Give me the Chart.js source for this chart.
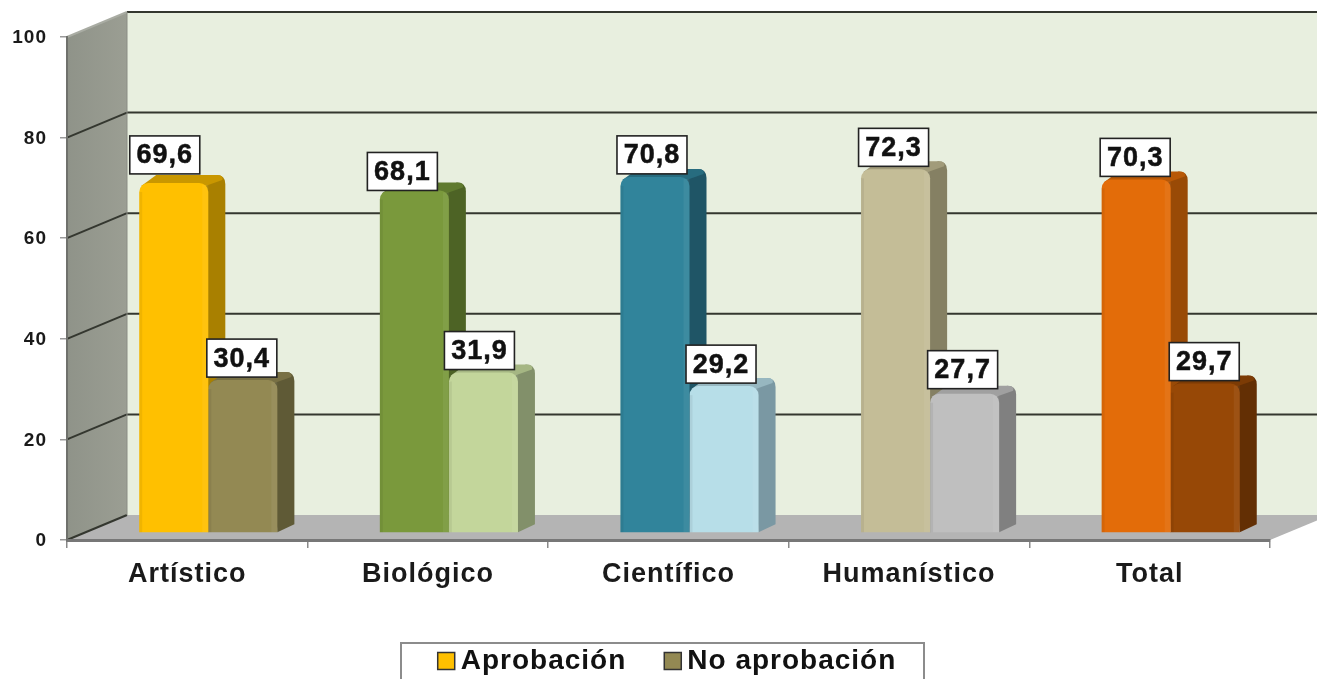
<!DOCTYPE html>
<html>
<head>
<meta charset="utf-8">
<title>Aprobación</title>
<script src="https://cdn.jsdelivr.net/npm/chart.js@4"></script>
<style>
  html, body { margin: 0; padding: 0; background: #fff; overflow: hidden; }
  canvas { display: block; filter: blur(0.7px); }
</style>
</head>
<body>
<canvas id="chart" width="1317" height="679"></canvas>
<script>
const categories = ['Artístico', 'Biológico', 'Científico', 'Humanístico', 'Total'];
const aprobacion = [69.6, 68.1, 70.8, 72.3, 70.3];
const noAprobacion = [30.4, 31.9, 29.2, 27.7, 29.7];
const yTicks = [0, 20, 40, 60, 80, 100];

const frontColors = [
    ['#ffc000', '#7a993c', '#31849b', '#c4bd97', '#e36c09'],
    ['#938953', '#c3d69b', '#b7dee8', '#bfbfbf', '#974806']
];
const sideColors = [
    ['#a98000', '#4d6325', '#1f5566', '#858063', '#994a06'],
    ['#5f5a36', '#82906a', '#7a98a3', '#808080', '#632f04']
];
const topColors = [
    ['#c99700', '#5f7a2e', '#276c7f', '#a19b7a', '#b85807'],
    ['#787044', '#a5b683', '#97b7c0', '#a0a0a0', '#7c3b05']
];

// hand placed labels in the original, small nudges from the default spot
const labelNudgeX = [[-9, -12, -3, -2, -1], [-1, -4, -3, -2, -1]];
const labelNudgeY = [[-5, 4, 1, 1, 1], [1, 1, 1, -1, 1]];

const font = 'Liberation Sans, Arial, sans-serif';
const wallDx = 60, wallDy = 25;
const barShiftX = 21, barShiftY = 7;
const barDx = 17, barDy = 8, corner = 9;

function drawWalls(chart) {
    const ctx = chart.ctx;
    const area = chart.chartArea;
    const y = chart.scales.y;
    const left = area.left, right = area.right, bottom = area.bottom, top = area.top;
    const far = right + wallDx;

    ctx.save();
    // back wall
    ctx.fillStyle = '#e8efdf';
    ctx.fillRect(left + wallDx, top - wallDy, far - left - wallDx, bottom - top);

    // left wall
    const grad = ctx.createLinearGradient(left, 0, left + wallDx, 0);
    grad.addColorStop(0, '#8f9389');
    grad.addColorStop(1, '#9b9e93');
    ctx.fillStyle = grad;
    ctx.beginPath();
    ctx.moveTo(left, top);
    ctx.lineTo(left + wallDx, top - wallDy);
    ctx.lineTo(left + wallDx, bottom - wallDy);
    ctx.lineTo(left, bottom);
    ctx.closePath();
    ctx.fill();

    // floor
    ctx.fillStyle = '#b4b4b4';
    ctx.beginPath();
    ctx.moveTo(left, bottom);
    ctx.lineTo(left + wallDx, bottom - wallDy);
    ctx.lineTo(far, bottom - wallDy);
    ctx.lineTo(right, bottom);
    ctx.closePath();
    ctx.fill();

    // grid lines, along the left wall then the back wall
    ctx.lineWidth = 2;
    yTicks.forEach(v => {
        const py = y.getPixelForValue(v);
        // the top edge of the left wall is only a faint line
        ctx.strokeStyle = v === 100 ? '#a9aca3' : '#34372f';
        ctx.beginPath();
        ctx.moveTo(left, py);
        ctx.lineTo(left + wallDx, py - wallDy);
        ctx.stroke();
        if (v > 0) {
            ctx.strokeStyle = '#34372f';
            ctx.beginPath();
            ctx.moveTo(left + wallDx, py - wallDy);
            ctx.lineTo(far, py - wallDy);
            ctx.stroke();
        }
    });

    ctx.strokeStyle = '#8a8d84';
    ctx.lineWidth = 1;
    ctx.beginPath();
    ctx.moveTo(left + wallDx, top - wallDy);
    ctx.lineTo(left + wallDx, bottom - wallDy);
    ctx.stroke();
    ctx.restore();
}

function drawBarDepth(ctx, bar, side, topColor) {
    const x0 = bar.x - bar.width / 2, x1 = bar.x + bar.width / 2;
    const top = bar.y, base = bar.base;

    ctx.fillStyle = side;
    ctx.beginPath();
    ctx.moveTo(x1 - corner, top);
    ctx.lineTo(x1 + barDx - corner, top - barDy);
    ctx.quadraticCurveTo(x1 + barDx, top - barDy, x1 + barDx, top - barDy + corner);
    ctx.lineTo(x1 + barDx, base - barDy);
    ctx.lineTo(x1, base);
    ctx.closePath();
    ctx.fill();

    ctx.fillStyle = topColor;
    ctx.beginPath();
    ctx.moveTo(x0 + 2, top + 3);
    ctx.lineTo(x0 + barDx, top - barDy);
    ctx.lineTo(x1 + barDx - corner, top - barDy);
    ctx.quadraticCurveTo(x1 + barDx - 1, top - barDy, x1 + barDx - 3, top - barDy + 5);
    ctx.lineTo(x1 - 3, top + 3);
    ctx.closePath();
    ctx.fill();
}

function drawBevel(ctx, bar) {
    const x0 = bar.x - bar.width / 2, x1 = bar.x + bar.width / 2;
    const h = bar.base - bar.y - corner;
    ctx.fillStyle = 'rgba(0,0,0,0.06)';
    ctx.fillRect(x0, bar.y + corner, 3, h);
    ctx.fillStyle = 'rgba(255,255,255,0.06)';
    ctx.fillRect(x1 - 6, bar.y + 2, 6, h + corner - 2);
}

function drawValueLabel(ctx, text, cx, cy) {
    const w = 70, h = 38;
    ctx.fillStyle = '#fff';
    ctx.fillRect(cx - w / 2, cy - h / 2, w, h);
    ctx.strokeStyle = '#222';
    ctx.lineWidth = 1.6;
    ctx.strokeRect(cx - w / 2, cy - h / 2, w, h);
    ctx.fillStyle = '#111';
    ctx.strokeStyle = '#111';
    ctx.lineWidth = 0.5;
    ctx.font = 'bold 27px ' + font;
    ctx.textAlign = 'center';
    ctx.textBaseline = 'middle';
    ctx.fillText(text, cx, cy + 1);
    ctx.strokeText(text, cx, cy + 1);
}

const bars3d = {
    id: 'bars3d',
    afterInit(chart) {
        // the reference is stretched sideways, spacing gets the widths back
        chart.ctx.letterSpacing = '1px';
    },
    afterLayout(chart) {
        const legend = chart.legend;
        legend.top = 601;
        legend.left += 36;
        legend.right += 36;
    },
    beforeDraw(chart) {
        drawWalls(chart);
    },
    beforeDatasetsDraw(chart) {
        const ctx = chart.ctx;
        ctx.save();
        ctx.translate(barShiftX, -barShiftY);
        chart.data.datasets.forEach((ds, i) => {
            chart.getDatasetMeta(i).data.forEach((bar, j) => {
                drawBarDepth(ctx, bar, sideColors[i][j], topColors[i][j]);
            });
        });
    },
    afterDatasetsDraw(chart) {
        const ctx = chart.ctx;
        chart.data.datasets.forEach((ds, i) => {
            chart.getDatasetMeta(i).data.forEach(bar => drawBevel(ctx, bar));
        });
        chart.data.datasets.forEach((ds, i) => {
            chart.getDatasetMeta(i).data.forEach((bar, j) => {
                const text = String(ds.data[j]).replace('.', ',');
                drawValueLabel(ctx, text, bar.x + labelNudgeX[i][j], bar.y - 23 + labelNudgeY[i][j]);
            });
        });
        ctx.restore();
    },
    afterDraw(chart) {
        // legend frame runs off the bottom of the picture
        const ctx = chart.ctx;
        ctx.save();
        ctx.strokeStyle = '#8c8c8c';
        ctx.lineWidth = 2;
        ctx.strokeRect(401, 643, 523, 60);
        ctx.restore();
    }
};

const chart = new Chart(document.getElementById('chart'), {
    type: 'bar',
    data: {
        labels: categories,
        datasets: [
            { label: 'Aprobación', data: aprobacion, backgroundColor: frontColors[0] },
            { label: 'No aprobación', data: noAprobacion, backgroundColor: frontColors[1] }
        ].map(ds => ({
            ...ds,
            clip: false,
            categoryPercentage: 0.574,
            barPercentage: 1,
            borderRadius: { topLeft: corner, topRight: corner, bottomLeft: 0, bottomRight: 0 },
            borderSkipped: false
        }))
    },
    options: {
        responsive: false,
        animation: false,
        layout: { padding: { left: 0, top: 37, right: 47, bottom: 0 } },
        scales: {
            x: {
                afterFit: s => { s.height = 139 - s.chart.legend.height; },
                border: { color: '#777', width: 3 },
                grid: { drawOnChartArea: false, color: '#8a8a8a', tickLength: 8, lineWidth: 1.5 },
                ticks: {
                    color: '#1a1a1a',
                    padding: 10,
                    maxRotation: 0,
                    autoSkip: false,
                    font: { family: font, size: 27, weight: 'bold' }
                }
            },
            y: {
                min: 0,
                max: 100,
                afterFit: s => { s.width = 67; },
                afterBuildTicks: s => { s.ticks = yTicks.map(value => ({ value })); },
                border: { color: '#6f716c', width: 2 },
                grid: { drawOnChartArea: false, color: '#9a9a9a', tickLength: 7, lineWidth: 1.5 },
                ticks: {
                    color: '#1a1a1a',
                    padding: 13,
                    labelOffset: 1,
                    font: { family: font, size: 19, weight: 'bold' }
                }
            }
        },
        plugins: {
            tooltip: { enabled: false },
            legend: {
                position: 'bottom',
                labels: {
                    color: '#111',
                    usePointStyle: true,
                    pointStyle: 'rect',
                    boxWidth: 1,
                    boxHeight: 17,
                    padding: 46,
                    font: { family: font, size: 28, weight: 'bold' },
                    generateLabels(c) {
                        return Chart.defaults.plugins.legend.labels.generateLabels(c).map((item, i) => ({
                            ...item,
                            fillStyle: frontColors[i][0],
                            strokeStyle: '#333',
                            lineWidth: 1.5
                        }));
                    }
                }
            }
        }
    },
    plugins: [bars3d]
});
</script>
</body>
</html>
